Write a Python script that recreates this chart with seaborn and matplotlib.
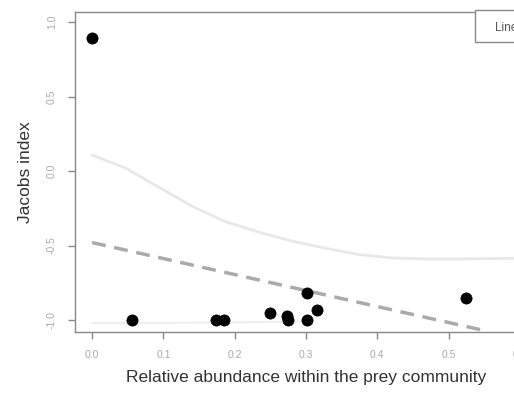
import matplotlib
matplotlib.use("Agg")
import matplotlib.pyplot as plt
from matplotlib.patches import Rectangle
import seaborn as sns

# observed prey: relative abundance vs Jacobs index
abundance = [0.0, 0.056, 0.174, 0.185, 0.25, 0.273, 0.275, 0.302, 0.302, 0.316, 0.525]
jacobs = [0.89, -1.0, -1.0, -1.0, -0.955, -0.97, -1.0, -0.82, -1.0, -0.93, -0.85]

# linear fit (dashed)
lin_x = [0.0, 0.55]
lin_y = [-0.48, -1.07]

# smooth fit, upper (light grey)
smooth_x = [0.0, 0.047, 0.094, 0.14, 0.187, 0.234, 0.28, 0.33, 0.374, 0.42, 0.47, 0.52, 0.57, 0.62]
smooth_y = [0.107, 0.02, -0.11, -0.235, -0.34, -0.41, -0.47, -0.52, -0.56, -0.583, -0.59, -0.59, -0.587, -0.583]

# faint lower curve
low_x = [0.0, 0.1, 0.2, 0.3]
low_y = [-1.02, -1.02, -1.015, -1.01]

legend_text = "Linear regression"

sns.set_style("white")
plt.rcParams['font.family'] = ['Liberation Sans', 'DejaVu Sans']

fig = plt.figure(figsize=(5.14, 3.94), dpi=100)
W, H = 514, 394
# axes run past the right edge, like the cropped original
ax = fig.add_axes([75 / W, 1 - 332 / H, 462 / W, 320 / H])

sns.lineplot(x=low_x, y=low_y, ax=ax, color="#efefef", linewidth=1.5)
sns.lineplot(x=smooth_x, y=smooth_y, ax=ax, color="#e8e8e8", linewidth=2)
sns.lineplot(x=lin_x, y=lin_y, ax=ax, color="#aaaaaa", linewidth=2.5,
             linestyle=(0, (4, 2.5)))
sns.scatterplot(x=abundance, y=jacobs, ax=ax, color="black", s=65,
                edgecolor="black", linewidth=0.5, zorder=5)

ax.set_xlim(-0.024, 0.624)
ax.set_ylim(-1.08, 1.067)
ax.set_xticks([0.0, 0.1, 0.2, 0.3, 0.4, 0.5, 0.6])
ax.set_yticks([-1.0, -0.5, 0.0, 0.5, 1.0])
ax.set_xticklabels(["0.0", "0.1", "0.2", "0.3", "0.4", "0.5", "0.6"])
ax.set_yticklabels(["-1.0", "-0.5", "0.0", "0.5", "1.0"], rotation=90, va="center")

for s in ax.spines.values():
    s.set_color("#888888")
    s.set_linewidth(1)
ax.tick_params(axis="both", direction="out", length=5, width=1, color="#888888",
               labelsize=7.5, labelcolor="#aaaaaa", pad=8,
               bottom=True, left=True)

ax.set_xlabel("Relative abundance within the prey community", fontsize=12.5,
              color="#333333", labelpad=7)
ax.set_ylabel("Jacobs index", fontsize=12.5, color="#333333", labelpad=10)

# legend box, cut off at the right edge
fig.patches.append(Rectangle((475 / W, 1 - 42 / H), 80 / W, 32 / H,
                             transform=fig.transFigure, facecolor="white",
                             edgecolor="#888888", linewidth=1))
fig.text(495 / W, 1 - 28 / H, legend_text, fontsize=8.5, color="#555555",
         va="center", ha="left")

fig.savefig("out.png", dpi=100)
